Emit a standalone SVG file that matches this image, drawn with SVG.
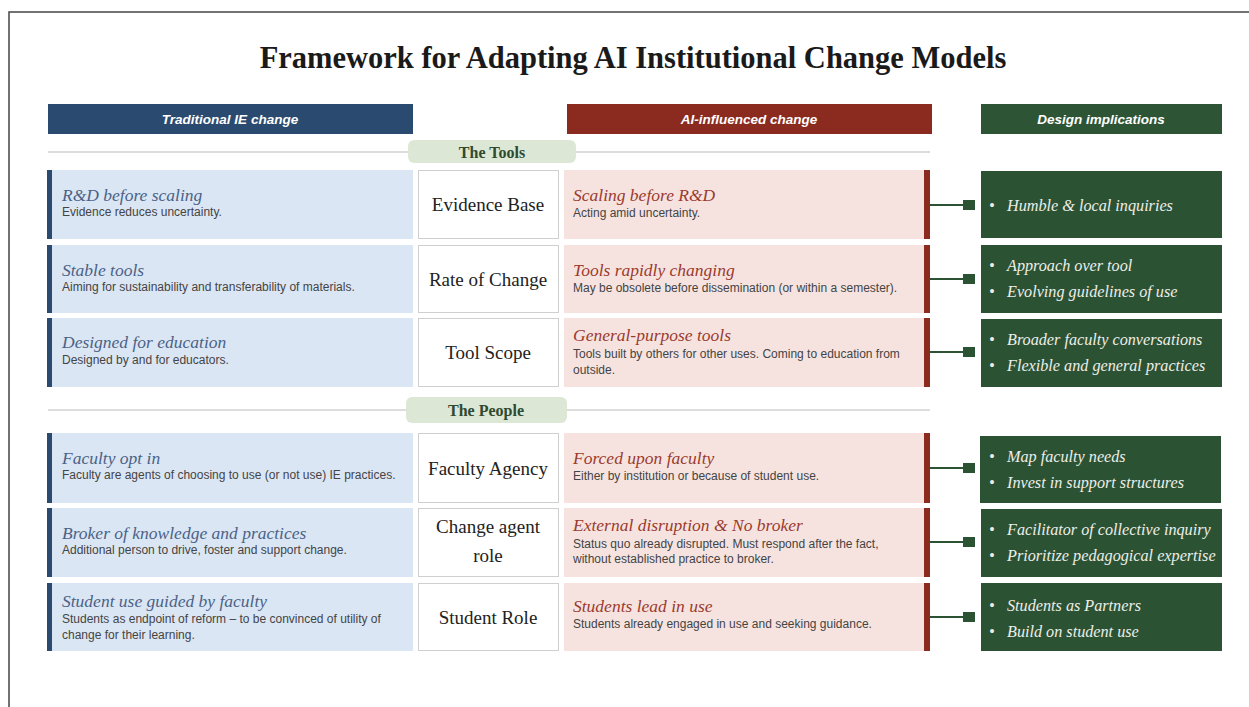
<svg xmlns="http://www.w3.org/2000/svg" width="1249" height="707" viewBox="0 0 1249 707">
<style>
.title{font-family:"Liberation Serif",serif;font-weight:bold;font-size:30.5px;fill:#1a1a1a}
.hdr{font-family:"Liberation Sans",sans-serif;font-weight:bold;font-style:italic;font-size:13.5px;fill:#ffffff}
.pill{fill:#dde7d6}
.pilltxt{font-family:"Liberation Serif",serif;font-weight:bold;font-size:16px;fill:#2f4a30}
.sep{stroke:#d2d2d2;stroke-width:1.5}
.lbox{fill:#dbe6f4}
.lbar{fill:#2a4b6f}
.ltitle{font-family:"Liberation Serif",serif;font-style:italic;font-size:17.5px;fill:#4a6286}
.sub{font-family:"Liberation Sans",sans-serif;font-size:12px;fill:#444444}
.mbox{fill:#ffffff;stroke:#cfcfcf;stroke-width:1}
.mtxt{font-family:"Liberation Serif",serif;font-size:19px;fill:#222222}
.pbox{fill:#f6e3e0}
.pbar{fill:#8b2b1f}
.ptitle{font-family:"Liberation Serif",serif;font-style:italic;font-size:17.5px;fill:#9a3b2e}
.gbox{fill:#2c5234}
.gtxt{font-family:"Liberation Serif",serif;font-style:italic;font-size:16.2px;fill:#eeeee8}
.conn{stroke:#2c5234;stroke-width:2}
.sq{fill:#2c5234}
</style>
<rect x="0" y="0" width="1249" height="707" fill="#ffffff"/>
<path d="M9 707 V12 H1249" fill="none" stroke="#444" stroke-width="1.5"/>
<text class="title" x="633" y="68" text-anchor="middle">Framework for Adapting AI Institutional Change Models</text>

<g id="headers">
<rect x="48" y="104" width="365" height="30" fill="#2a4b6f"/>
<text class="hdr" x="230" y="124" text-anchor="middle">Traditional IE change</text>
<rect x="567" y="104" width="365" height="30" fill="#8b2b1f"/>
<text class="hdr" x="749" y="124" text-anchor="middle">AI-influenced change</text>
<rect x="981" y="104" width="241" height="30" fill="#2d5535"/>
<text class="hdr" x="1101" y="124" text-anchor="middle">Design implications</text>
</g>

<g id="section-tools">
<line class="sep" x1="48" y1="152" x2="930" y2="152"/>
<rect class="pill" x="408" y="140" width="168" height="23" rx="6"/>
<text class="pilltxt" x="492" y="157.5" text-anchor="middle">The Tools</text>
</g>
<g id="section-people">
<line class="sep" x1="48" y1="410" x2="930" y2="410"/>
<rect class="pill" x="406" y="397" width="161" height="26" rx="6"/>
<text class="pilltxt" x="486" y="415.5" text-anchor="middle">The People</text>
</g>

<!-- Row 1 -->
<g id="row1-traditional">
<rect class="lbox" x="47" y="170" width="366" height="69"/><rect class="lbar" x="47" y="170" width="5" height="69"/>
<text class="ltitle" x="62" y="201">R&amp;D before scaling</text>
<text class="sub" x="62" y="216">Evidence reduces uncertainty.</text>
</g>
<g id="row1-dimension">
<rect class="mbox" x="418.5" y="170.5" width="140" height="68"/>
<text class="mtxt" x="488" y="211" text-anchor="middle">Evidence Base</text>
</g>
<g id="row1-ai">
<rect class="pbox" x="564" y="170" width="366" height="69"/><rect class="pbar" x="924" y="170" width="6" height="69"/>
<text class="ptitle" x="573" y="201">Scaling before R&amp;D</text>
<text class="sub" x="573" y="217">Acting amid uncertainty.</text>
</g>
<g id="row1-design">
<rect class="gbox" x="981" y="171" width="241" height="67"/>
<text class="gtxt" x="989" y="211">•</text><text class="gtxt" x="1007" y="211">Humble &amp; local inquiries</text>
</g>

<!-- Row 2 -->
<g id="row2-traditional">
<rect class="lbox" x="47" y="245" width="366" height="68"/><rect class="lbar" x="47" y="245" width="5" height="68"/>
<text class="ltitle" x="62" y="276">Stable tools</text>
<text class="sub" x="62" y="291">Aiming for sustainability and transferability of materials.</text>
</g>
<g id="row2-dimension">
<rect class="mbox" x="418.5" y="245.5" width="140" height="67"/>
<text class="mtxt" x="488" y="286" text-anchor="middle">Rate of Change</text>
</g>
<g id="row2-ai">
<rect class="pbox" x="564" y="245" width="366" height="68"/><rect class="pbar" x="924" y="245" width="6" height="68"/>
<text class="ptitle" x="573" y="276">Tools rapidly changing</text>
<text class="sub" x="573" y="292">May be obsolete before dissemination (or within a semester).</text>
</g>
<g id="row2-design">
<rect class="gbox" x="981" y="245" width="241" height="68"/>
<text class="gtxt" x="989" y="271">•</text><text class="gtxt" x="1007" y="271">Approach over tool</text>
<text class="gtxt" x="989" y="297">•</text><text class="gtxt" x="1007" y="297">Evolving guidelines of use</text>
</g>

<!-- Row 3 -->
<g id="row3-traditional">
<rect class="lbox" x="47" y="318" width="366" height="69"/><rect class="lbar" x="47" y="318" width="5" height="69"/>
<text class="ltitle" x="62" y="348">Designed for education</text>
<text class="sub" x="62" y="364">Designed by and for educators.</text>
</g>
<g id="row3-dimension">
<rect class="mbox" x="418.5" y="318.5" width="140" height="68"/>
<text class="mtxt" x="488" y="359" text-anchor="middle">Tool Scope</text>
</g>
<g id="row3-ai">
<rect class="pbox" x="564" y="318" width="366" height="69"/><rect class="pbar" x="924" y="318" width="6" height="69"/>
<text class="ptitle" x="573" y="341">General-purpose tools</text>
<text class="sub" x="573" y="358">Tools built by others for other uses. Coming to education from</text>
<text class="sub" x="573" y="374">outside.</text>
</g>
<g id="row3-design">
<rect class="gbox" x="981" y="319" width="241" height="68"/>
<text class="gtxt" x="989" y="345">•</text><text class="gtxt" x="1007" y="345">Broader faculty conversations</text>
<text class="gtxt" x="989" y="371">•</text><text class="gtxt" x="1007" y="371">Flexible and general practices</text>
</g>

<!-- Row 4 -->
<g id="row4-traditional">
<rect class="lbox" x="47" y="433" width="366" height="70"/><rect class="lbar" x="47" y="433" width="5" height="70"/>
<text class="ltitle" x="62" y="464">Faculty opt in</text>
<text class="sub" x="62" y="479">Faculty are agents of choosing to use (or not use) IE practices.</text>
</g>
<g id="row4-dimension">
<rect class="mbox" x="418.5" y="433.5" width="140" height="69"/>
<text class="mtxt" x="488" y="475" text-anchor="middle">Faculty Agency</text>
</g>
<g id="row4-ai">
<rect class="pbox" x="564" y="433" width="366" height="70"/><rect class="pbar" x="924" y="433" width="6" height="70"/>
<text class="ptitle" x="573" y="464">Forced upon faculty</text>
<text class="sub" x="573" y="480">Either by institution or because of student use.</text>
</g>
<g id="row4-design">
<rect class="gbox" x="980" y="436" width="241" height="67"/>
<text class="gtxt" x="989" y="462">•</text><text class="gtxt" x="1007" y="462">Map faculty needs</text>
<text class="gtxt" x="989" y="488">•</text><text class="gtxt" x="1007" y="488">Invest in support structures</text>
</g>

<!-- Row 5 -->
<g id="row5-traditional">
<rect class="lbox" x="47" y="508" width="366" height="69"/><rect class="lbar" x="47" y="508" width="5" height="69"/>
<text class="ltitle" x="62" y="539">Broker of knowledge and practices</text>
<text class="sub" x="62" y="554">Additional person to drive, foster and support change.</text>
</g>
<g id="row5-dimension">
<rect class="mbox" x="418.5" y="508.5" width="140" height="68"/>
<text class="mtxt" x="488" y="533" text-anchor="middle">Change agent</text>
<text class="mtxt" x="488" y="562" text-anchor="middle">role</text>
</g>
<g id="row5-ai">
<rect class="pbox" x="564" y="508" width="366" height="69"/><rect class="pbar" x="924" y="508" width="6" height="69"/>
<text class="ptitle" x="573" y="531">External disruption &amp; No broker</text>
<text class="sub" x="573" y="548">Status quo already disrupted. Must respond after the fact,</text>
<text class="sub" x="573" y="563">without established practice to broker.</text>
</g>
<g id="row5-design">
<rect class="gbox" x="981" y="509" width="241" height="68"/>
<text class="gtxt" x="989" y="535">•</text><text class="gtxt" x="1007" y="535">Facilitator of collective inquiry</text>
<text class="gtxt" x="989" y="561">•</text><text class="gtxt" x="1007" y="561">Prioritize pedagogical expertise</text>
</g>

<!-- Row 6 -->
<g id="row6-traditional">
<rect class="lbox" x="47" y="583" width="366" height="68"/><rect class="lbar" x="47" y="583" width="5" height="68"/>
<text class="ltitle" x="62" y="607">Student use guided by faculty</text>
<text class="sub" x="62" y="623">Students as endpoint of reform – to be convinced of utility of</text>
<text class="sub" x="62" y="639">change for their learning.</text>
</g>
<g id="row6-dimension">
<rect class="mbox" x="418.5" y="583.5" width="140" height="67"/>
<text class="mtxt" x="488" y="624" text-anchor="middle">Student Role</text>
</g>
<g id="row6-ai">
<rect class="pbox" x="564" y="583" width="366" height="68"/><rect class="pbar" x="924" y="583" width="6" height="68"/>
<text class="ptitle" x="573" y="612">Students lead in use</text>
<text class="sub" x="573" y="628">Students already engaged in use and seeking guidance.</text>
</g>
<g id="row6-design">
<rect class="gbox" x="981" y="583" width="241" height="68"/>
<text class="gtxt" x="989" y="611">•</text><text class="gtxt" x="1007" y="611">Students as Partners</text>
<text class="gtxt" x="989" y="637">•</text><text class="gtxt" x="1007" y="637">Build on student use</text>
</g>

<g id="connectors">
<line class="conn" x1="930" y1="205" x2="964" y2="205"/><rect class="sq" x="963" y="200" width="12" height="10"/>
<line class="conn" x1="930" y1="279" x2="964" y2="279"/><rect class="sq" x="963" y="274" width="12" height="10"/>
<line class="conn" x1="930" y1="352" x2="964" y2="352"/><rect class="sq" x="963" y="347" width="12" height="10"/>
<line class="conn" x1="930" y1="468" x2="964" y2="468"/><rect class="sq" x="963" y="463" width="12" height="10"/>
<line class="conn" x1="930" y1="542" x2="964" y2="542"/><rect class="sq" x="963" y="537" width="12" height="10"/>
<line class="conn" x1="930" y1="617" x2="964" y2="617"/><rect class="sq" x="963" y="612" width="12" height="10"/>
</g>
</svg>
